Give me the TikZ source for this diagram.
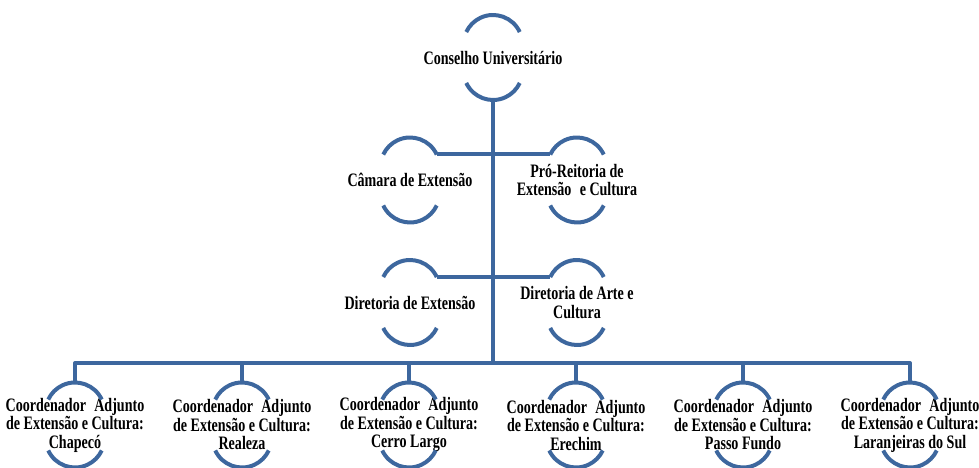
\documentclass[tikz,border=0pt]{standalone}
\usepackage{fontspec}
\setmainfont{Liberation Serif}[FakeStretch=0.74]
\definecolor{bracketblue}{RGB}{61,103,158}
\tikzset{
  unit/.style={align=center,inner sep=0pt,font=\fontsize{19}{18.5}\selectfont\bfseries},
  bracket/.style={draw=bracketblue,line width=4pt,line cap=butt},
  link/.style={draw=bracketblue,line width=4pt,line join=round}
}
% arcs above and below a named unit, with coordinates for the links
\newcommand{\brackets}[1]{%
  \draw[bracket] (#1.center) ++(0,13) ++(25:29.5) arc[start angle=25,end angle=155,radius=29.5pt];
  \draw[bracket] (#1.center) ++(0,-13) ++(205:29.5) arc[start angle=205,end angle=335,radius=29.5pt];
  \coordinate (#1-top) at ([yshift=42.5pt]#1.center);
  \coordinate (#1-bot) at ([yshift=-42.5pt]#1.center);
  \coordinate (#1-l) at ([shift={(-26.7pt,25.5pt)}]#1.center);
  \coordinate (#1-r) at ([shift={(26.7pt,25.5pt)}]#1.center);
}
\newcommand{\coordadj}{Coordenador\hspace{0.25em} Adjunto\\de Extensão e Cultura:}
\begin{document}
\begin{tikzpicture}[x=1pt,y=1pt]
  \useasboundingbox (0,0) rectangle (979,468);

  \node[unit] (cu) at (493,410.5) {Conselho Universitário};
  \node[unit] (cam) at (410,288) {Câmara de Extensão};
  \node[unit] (pro) at (577,288) {Pró-Reitoria de\\Extensão\hspace{0.25em} e Cultura};
  \node[unit] (dex) at (410,165.5) {Diretoria de Extensão};
  \node[unit] (dac) at (577,165.5) {Diretoria de Arte e\\Cultura};

  \node[unit] (c1) at (75,43) {\coordadj\\Chapecó};
  \node[unit] (c2) at (242,43) {\coordadj\\Realeza};
  \node[unit] (c3) at (409,43) {\coordadj\\Cerro Largo};
  \node[unit] (c4) at (576,43) {\coordadj\\Erechim};
  \node[unit] (c5) at (743,43) {\coordadj\\Passo Fundo};
  \node[unit] (c6) at (910,43) {\coordadj\\Laranjeiras do Sul};

  \foreach \n in {cu,cam,pro,dex,dac,c1,c2,c3,c4,c5,c6}
    {\brackets{\n}}

  \coordinate (bus) at (493,105);
  \draw[link] (cu-bot) -- (bus);
  \draw[link] (cam-r) -- (pro-l);
  \draw[link] (dex-r) -- (dac-l);
  \draw[link] (c1-top) |- (bus) -| (c6-top);
  \foreach \i in {2,...,5}
    \draw[link] (c\i-top) -- (c\i-top |- bus);
\end{tikzpicture}
\end{document}
